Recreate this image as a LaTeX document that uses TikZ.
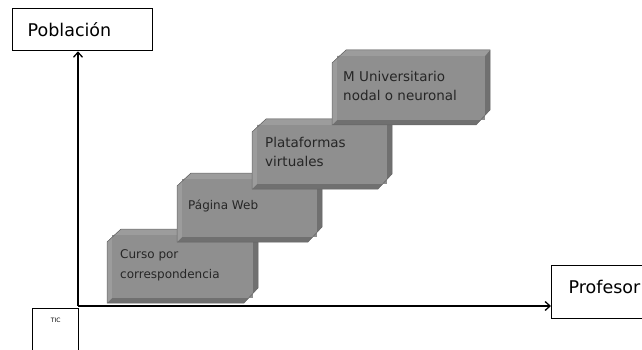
\documentclass[tikz,border=0pt]{standalone}
\usepackage{fontspec}
\setmainfont{DejaVu Sans}
\usetikzlibrary{arrows.meta}
\tikzset{>={Straight Barb[length=5pt,width=9pt]}}

\definecolor{bisel}{RGB}{112,112,112}
\definecolor{biselclaro}{RGB}{156,156,156}
\definecolor{cara}{RGB}{143,143,143}
\definecolor{borde}{RGB}{100,100,100}

% bloque biselado: (#1,#2) arriba a la izquierda, (#3,#4) abajo a la derecha
\newcommand{\bloque}[4]{
  \fill[bisel] ({#1+14},#2) -- (#3,#2) -- (#3,{#4-15}) -- ({#3-14},#4)
    -- (#1,#4) -- (#1,{#2+13}) -- cycle;
  \fill[biselclaro] (#1,#4) -- (#1,{#2+13}) -- ({#1+14},#2) -- (#3,#2)
    -- ({#3-5},{#2+6}) -- ({#1+5},{#2+6}) -- ({#1+5},{#4-5}) -- cycle;
  \fill[cara] ({#1+5},{#2+6}) rectangle ({#3-5},{#4-5});
  \draw[borde, line width=0.5pt] ({#1+14},#2) -- (#3,#2) -- (#3,{#4-15})
    -- ({#3-14},#4) -- (#1,#4) -- (#1,{#2+13}) -- cycle;
}

\begin{document}
\begin{tikzpicture}[x=1pt, y=-1pt,
    caja/.style={draw, line width=1.3pt, fill=white, inner ysep=0pt},
    texto/.style={anchor=north west, align=left, inner sep=0pt, text=black!85},
    chico/.style={font=\fontsize{12}{20}\selectfont},
    grande/.style={font=\fontsize{13.5}{19}\selectfont}]
  \useasboundingbox (0,0) rectangle (642,350);

  % escalones
  \bloque{107}{229}{258}{303}
  \node[texto, chico] (curso) at (120,249) {Curso por\\correspondencia};
  \bloque{177}{173}{322}{242}
  \node[texto, chico] (web) at (188,199.5) {Página Web};
  \bloque{252}{119}{392}{189}
  \node[texto, grande] (plataformas) at (265,137) {Plataformas\\virtuales};
  \bloque{332}{50}{490}{125}
  \node[texto, grande] (universitario) at (343,71) {M Universitario\\nodal o neuronal};

  % ejes
  \node[caja, anchor=north west, minimum height=42pt, inner xsep=15pt,
    text width=110pt, align=left, font=\fontsize{17.5}{20}\selectfont]
    (poblacion) at (12,8) {Población};
  \node[caja, anchor=north west, minimum height=53pt, inner xsep=17pt,
    text width=80pt, align=left, text depth=10pt,
    font=\fontsize{17.5}{20}\selectfont]
    (profesor) at (551,265) {Profesor};
  \node[caja, anchor=north west, minimum width=46pt, minimum height=50pt,
    text depth=26pt, font=\fontsize{6}{7}\selectfont]
    (tic) at (32,308) {TIC};
  \coordinate (origen) at (78,306);
  \draw[line width=1.3pt, ->] (origen) -- (origen |- poblacion.south);
  \draw[line width=1.3pt, ->] (origen) -- (origen -| profesor.west);
\end{tikzpicture}
\end{document}
